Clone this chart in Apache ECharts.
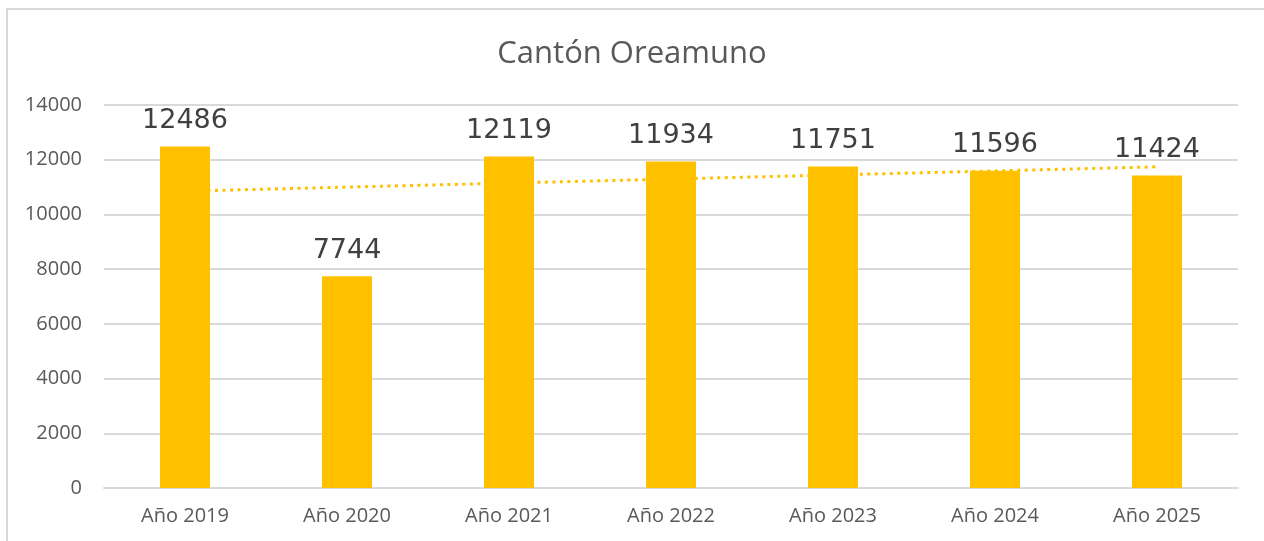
<!DOCTYPE html>
<html>
<head>
<meta charset="utf-8">
<script src="https://cdn.jsdelivr.net/npm/echarts@6/dist/echarts.min.js"></script>
<style>
  html, body { margin: 0; padding: 0; background: #fff; }
  #chart { width: 1264px; height: 541px; }
</style>
</head>
<body>
<div id="chart"></div>
<script>
  // datos
  const categories = ['Año 2019', 'Año 2020', 'Año 2021', 'Año 2022', 'Año 2023', 'Año 2024', 'Año 2025'];
  const values = [12486, 7744, 12119, 11934, 11751, 11596, 11424];
  // línea de tendencia: solo los extremos, lo demás se une
  const trend = [10850, '-', '-', '-', '-', '-', 11740];
  const yTicks = { min: 0, max: 14000, interval: 2000 };

  const chart = echarts.init(document.getElementById('chart'));
  chart.setOption({
    backgroundColor: '#fff',
    animation: false,
    title: {
      text: 'Cantón Oreamuno',
      left: 'center',
      top: 34,
      textStyle: {
        color: '#595959',
        fontFamily: 'Open Sans',
        fontSize: 31,
        fontWeight: 'normal'
      }
    },
    graphic: [{
      type: 'rect',
      shape: { x: 7, y: 9, width: 1300, height: 600 },
      style: { fill: 'none', stroke: '#d9d9d9', lineWidth: 2 },
      silent: true
    }],
    grid: { left: 104, right: 26, top: 105, bottom: 53 },
    xAxis: {
      type: 'category',
      data: categories,
      axisTick: { show: false },
      axisLine: { lineStyle: { color: '#d9d9d9', width: 2 } },
      axisLabel: {
        color: '#595959',
        fontFamily: 'Open Sans',
        fontSize: 20,
        margin: 18
      }
    },
    yAxis: {
      type: 'value',
      min: yTicks.min,
      max: yTicks.max,
      interval: yTicks.interval,
      axisLine: { show: false },
      axisTick: { show: false },
      splitLine: { lineStyle: { color: '#d9d9d9', width: 2 } },
      axisLabel: {
        color: '#595959',
        fontFamily: 'Open Sans',
        fontSize: 20,
        margin: 22,
        formatter: v => String(v)
      }
    },
    series: [
      {
        name: 'Tendencia',
        type: 'line',
        data: trend,
        connectNulls: true,
        symbol: 'none',
        z: 1,
        silent: true,
        lineStyle: { color: '#FFC000', width: 3, type: [3, 4.5] }
      },
      {
        name: 'Oreamuno',
        type: 'bar',
        data: values,
        barWidth: 50,
        z: 2,
        itemStyle: { color: '#FFC000' },
        label: {
          show: true,
          position: 'top',
          distance: 12,
          color: '#404040',
          fontFamily: 'DejaVu Sans',
          fontSize: 27
        }
      }
    ]
  });
</script>
</body>
</html>
